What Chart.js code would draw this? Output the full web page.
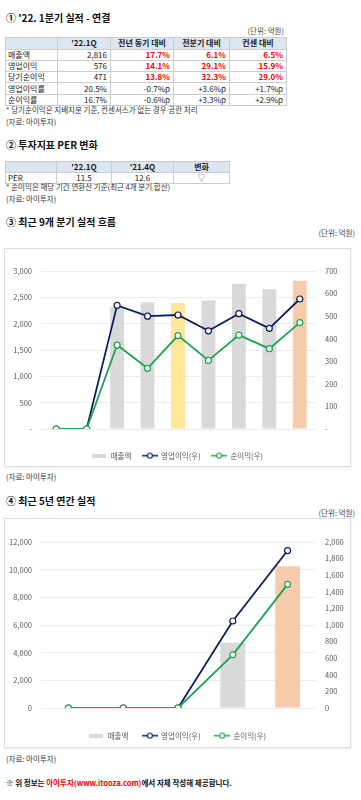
<!DOCTYPE html>
<html><head><meta charset="utf-8">
<script src="https://cdn.jsdelivr.net/npm/chart.js@4.4.1/dist/chart.umd.min.js"></script>
<style>
html,body{margin:0;padding:0;overflow:hidden;background:#fff}
body{width:361px;height:800px;position:relative;font-family:"Noto Sans CJK KR","Noto Sans",sans-serif;color:#222}
.t{position:absolute;white-space:nowrap;line-height:12px;height:12px}
.title{font-weight:bold;font-size:10px;color:#111}
.small{font-size:7.5px;color:#333}
.unit{font-size:7.5px;color:#444;text-align:right}
table{position:absolute;border-collapse:collapse;table-layout:fixed;font-size:8px;line-height:10px;color:#222}
td,th{border:1px solid #cdcdcd;padding:0 3px;white-space:nowrap;overflow:hidden}
th{background:#dce6f1;font-weight:bold;text-align:center;color:#1a1a1a}
td{text-align:right}
td.l{text-align:left;padding-left:2px}
td.c{text-align:center}
td.r{color:#ff0000;font-weight:bold}
.box{position:absolute;left:4px;width:345px;border:1px solid #dedede;box-shadow:0 1px 2px rgba(0,0,0,0.08);background:#fff}
.box canvas{display:block}
.foot{font-size:7.5px;font-weight:bold;color:#111}
.foot span{color:#ff0000}
</style>
</head><body>

<div class="t title" style="left:6px;top:12px">① '22. 1분기 실적 - 연결</div>
<div class="t unit" style="right:77px;top:25px">(단위: 억원)</div>
<table style="left:5px;top:37px;width:281px">
<colgroup><col style="width:52px"><col style="width:53px"><col style="width:63px"><col style="width:56px"><col style="width:57px"></colgroup>
<tr style="height:11.5px"><th></th><th>'22.1Q</th><th>전년 동기 대비</th><th>전분기 대비</th><th>컨센 대비</th></tr>
<tr style="height:11.3px"><td class="l">매출액</td><td>2,816</td><td class="r">17.7%</td><td class="r">6.1%</td><td class="r">6.5%</td></tr>
<tr style="height:11.3px"><td class="l">영업이익</td><td>576</td><td class="r">14.1%</td><td class="r">29.1%</td><td class="r">15.9%</td></tr>
<tr style="height:11.3px"><td class="l">당기순이익</td><td>471</td><td class="r">13.8%</td><td class="r">32.3%</td><td class="r">29.0%</td></tr>
<tr style="height:11.3px"><td class="l">영업이익률</td><td>20.5%</td><td>-0.7%p</td><td>+3.6%p</td><td>+1.7%p</td></tr>
<tr style="height:11.3px"><td class="l">순이익률</td><td>16.7%</td><td>-0.6%p</td><td>+3.3%p</td><td>+2.9%p</td></tr>
</table>
<div class="t small" style="left:6px;top:104px">* 당기순이익은 지배지분 기준, 컨센서스가 없는 경우 공란 처리</div>
<div class="t small" style="left:6px;top:116px">(자료: 아이투자)</div>

<div class="t title" style="left:6px;top:139px">② 투자지표 PER 변화</div>
<table style="left:5px;top:161px;width:224px">
<colgroup><col style="width:51px"><col style="width:55px"><col style="width:62px"><col style="width:56px"></colgroup>
<tr style="height:10.5px"><th></th><th>'22.1Q</th><th>'21.4Q</th><th>변화</th></tr>
<tr style="height:10.5px"><td class="l">PER</td><td class="c">11.5</td><td class="c">12.6</td><td class="c" style="color:#666">▽</td></tr>
</table>
<div class="t small" style="left:6px;top:181px">* 순이익은 해당 기간 연환산 기준(최근 4개 분기 합산)</div>
<div class="t small" style="left:6px;top:193px">(자료: 아이투자)</div>

<div class="t title" style="left:6px;top:216px">③ 최근 9개 분기 실적 흐름</div>
<div class="t unit" style="right:6px;top:227px">(단위: 억원)</div>
<div class="box" style="top:248px;height:217px"><canvas id="c1" width="345" height="217"></canvas></div>
<div class="t small" style="left:6px;top:471px">(자료: 아이투자)</div>

<div class="t title" style="left:6px;top:495px">④ 최근 5년 연간 실적</div>
<div class="t unit" style="right:6px;top:507px">(단위: 억원)</div>
<div class="box" style="top:518px;height:228px"><canvas id="c2" width="345" height="228"></canvas></div>
<div class="t small" style="left:6px;top:753px">(자료: 아이투자)</div>

<div class="t foot" style="left:6px;top:777px">※ 위 정보는 <span>아이투자(www.itooza.com)</span>에서 자체 작성해 제공합니다.</div>

<script>
// ---- data ----
const quarterLabels = ["'20.1Q","'20.2Q","'20.3Q","'20.4Q","'21.1Q","'21.2Q","'21.3Q","'21.4Q","'22.1Q"];
const quarterRevenue = [0, 0, 2310, 2400, 2392, 2440, 2760, 2654, 2816];
const quarterOpIncome = [0, 0, 548, 500, 505, 435, 511, 446, 576];
const quarterNetIncome = [0, 0, 372, 269, 414, 304, 416, 356, 471];

const yearLabels = ["2017","2018","2019","2020","2021"];
const yearRevenue = [0, 0, 0, 4710, 10246];
const yearOpIncome = [0, 0, 0, 1048, 1897];
const yearNetIncome = [0, 0, 0, 641, 1490];

const seriesNames = ["매출액", "영업이익(우)", "순이익(우)"];

// ---- styles ----
const GREY = '#d9d9d9', NAVY = '#0b1f5e', GREEN = '#1fa34f';
const quarterHighlight = {"'21.1Q": '#ffe699', "'22.1Q": '#f8cbad'};
const yearHighlight = {"2021": '#f8cbad'};
const FONT = "'Noto Sans CJK KR','Noto Sans',sans-serif";
const TICK = '#595959';

function icon(type, color){
  const c = document.createElement('canvas');
  if (type === 'bar') {
    c.width = 14; c.height = 4;
    const x = c.getContext('2d'); x.fillStyle = color; x.fillRect(0,0,14,4);
  } else {
    c.width = 16; c.height = 7;
    const x = c.getContext('2d');
    x.strokeStyle = color; x.lineWidth = 1.5;
    x.beginPath(); x.moveTo(0,3.5); x.lineTo(16,3.5); x.stroke();
    x.beginPath(); x.arc(8,3.5,2.5,0,Math.PI*2); x.fillStyle = '#fff'; x.fill();
    x.lineWidth = 1.2; x.stroke();
  }
  return c;
}
const icons = [icon('bar', GREY), icon('line', NAVY), icon('line', GREEN)];

function lineDs(label, data, color, order){
  return {type:'line', label, data, yAxisID:'y1', borderColor:color, borderWidth:1.8,
    pointRadius:3, pointHoverRadius:3, pointBackgroundColor:'#fff', pointBorderColor:color,
    pointBorderWidth:1.2, tension:0, order};
}

function build(id, labels, rev, op, net, highlight, leftMax, leftStep, rightMax, rightStep, dash, xh, xpad, legPad, legMax, topPad){
  const fmt = v => (dash && v === 0) ? '-' : v.toLocaleString('en-US');
  new Chart(document.getElementById(id), {
    data: {
      labels,
      datasets: [
        {type:'bar', label:seriesNames[0], data:rev, yAxisID:'y',
         backgroundColor: labels.map(l => highlight[l] || GREY),
         barPercentage:0.455, categoryPercentage:1, order:3},
        lineDs(seriesNames[1], op, NAVY, 2),
        lineDs(seriesNames[2], net, GREEN, 1)
      ]
    },
    options: {
      responsive:false, animation:false, devicePixelRatio:1,
      layout:{padding:{top:topPad, left:0, right:0, bottom:0}},
      plugins:{
        tooltip:{enabled:false},
        legend:{position:'bottom', maxHeight:legMax,
          labels:{usePointStyle:true, pointStyleWidth:15, boxHeight:7, padding:legPad,
            color:TICK, font:{size:7.5, family:FONT},
            sort:(a,b)=>a.datasetIndex-b.datasetIndex,
            generateLabels:(chart)=>chart.data.datasets.map((ds,i)=>({
              text:ds.label, pointStyle:icons[i], fillStyle:'rgba(0,0,0,0)',
              strokeStyle:'rgba(0,0,0,0)', lineWidth:0, hidden:false, datasetIndex:i, fontColor:TICK}))
          }}
      },
      scales:{
        x:{grid:{display:false}, border:{display:false},
           ticks:{color:TICK, font:{size:7.5, family:FONT}, padding:xpad, maxRotation:0, autoSkip:false},
           afterFit:s=>{s.height = xh;}},
        y:{position:'left', min:0, max:leftMax,
           grid:{color:'#ececec', drawTicks:false}, border:{display:false},
           ticks:{stepSize:leftStep, color:TICK, font:{size:7.5, family:FONT}, padding:9, callback:fmt},
           afterFit:s=>{s.width = 36;}},
        y1:{position:'right', min:0, max:rightMax,
           grid:{display:false, drawTicks:false}, border:{display:false},
           ticks:{stepSize:rightStep, color:TICK, font:{size:7.5, family:FONT}, padding:10, callback:fmt},
           afterFit:s=>{s.width = 35;}}
      }
    }
  });
}

build('c1', quarterLabels, quarterRevenue, quarterOpIncome, quarterNetIncome, quarterHighlight,
      3000, 500, 700, 100, true, 12, 6, 11, 25, 22);
build('c2', yearLabels, yearRevenue, yearOpIncome, yearNetIncome, yearHighlight,
      12000, 2000, 2000, 200, false, 10, 5, 14, 29, 23);
</script>
</body></html>
